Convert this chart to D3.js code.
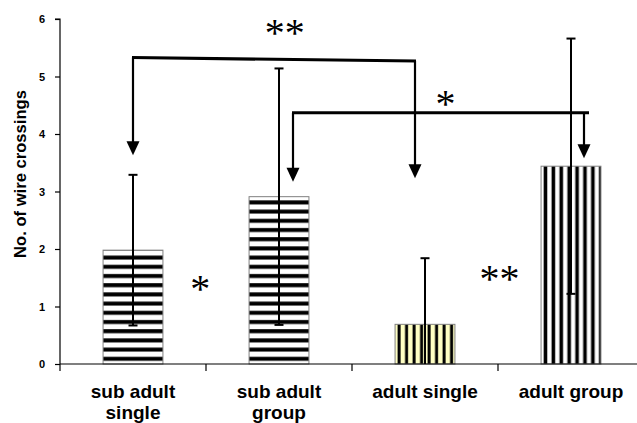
<!DOCTYPE html>
<html>
<head>
<meta charset="utf-8">
<script src="https://cdn.jsdelivr.net/npm/d3@7"></script>
<style>
  body { margin: 0; background: #fff; }
  svg { display: block; }
</style>
</head>
<body>
<div id="vis"></div>
<script>
// data
var categories = ["sub adult single", "sub adult group", "adult single", "adult group"];
var labelLines = [["sub adult", "single"], ["sub adult", "group"], ["adult single"], ["adult group"]];
var means = [1.98, 2.91, 0.69, 3.44];
var errors = [1.31, 2.23, 1.15, 2.22];
var yTicks = [0, 1, 2, 3, 4, 5, 6];

// comparisons: bracket between two bars, arrow tips at given values
var brackets = [
  {label: "**", from: 0, to: 2, levelFrom: 5.33, levelTo: 5.27, tipFrom: 3.63, tipTo: 3.23},
  {label: "*", from: 1, to: 3, levelFrom: 4.37, levelTo: 4.37, tipFrom: 3.17, tipTo: 3.58}
];
// star labels: position as fractional category index and value
var stars = [
  {text: "**", pos: 1.04, value: 5.86},
  {text: "*", pos: 2.14, value: 4.63},
  {text: "*", pos: 0.46, value: 1.41},
  {text: "**", pos: 2.51, value: 1.58}
];

var width = 637, height = 423;

var svg = d3.select("#vis").append("svg")
    .attr("width", width)
    .attr("height", height);

var x = d3.scaleBand().domain(categories).range([60, 644]);
var y = d3.scaleLinear().domain([0, 6]).range([364, 19]);
var barW = x.bandwidth() * 0.41;
function xc(i) { return x(categories[i]) + x.bandwidth() / 2; }
var xi = d3.scaleLinear().domain([0, 3]).range([xc(0), xc(3)]);

var defs = svg.append("defs");

// horizontal stripes
var ph = defs.append("pattern")
    .attr("id", "hstripe")
    .attr("patternUnits", "userSpaceOnUse")
    .attr("width", 10).attr("height", 9.2)
    .attr("y", 364);
ph.append("rect").attr("width", 10).attr("height", 9.2).attr("fill", "#fff");
ph.append("rect").attr("y", 2).attr("width", 10).attr("height", 4).attr("fill", "#000");

// vertical stripes on pale yellow
var py = defs.append("pattern")
    .attr("id", "vyellow")
    .attr("patternUnits", "userSpaceOnUse")
    .attr("width", 7.5).attr("height", 10)
    .attr("x", xc(2) - barW / 2);
py.append("rect").attr("width", 7.5).attr("height", 10).attr("fill", "#ffffc4");
py.append("rect").attr("x", 2.5).attr("width", 3).attr("height", 10).attr("fill", "#000");

// vertical stripes on white
var pw = defs.append("pattern")
    .attr("id", "vwhite")
    .attr("patternUnits", "userSpaceOnUse")
    .attr("width", 7.9).attr("height", 10)
    .attr("x", xc(3) - barW / 2);
pw.append("rect").attr("width", 7.9).attr("height", 10).attr("fill", "#fff");
pw.append("rect").attr("x", 2.6).attr("width", 3.6).attr("height", 10).attr("fill", "#000");

var fills = ["url(#hstripe)", "url(#hstripe)", "url(#vyellow)", "url(#vwhite)"];

// bars
svg.append("g").selectAll("rect")
    .data(means)
    .enter().append("rect")
      .attr("x", function(d, i) { return xc(i) - barW / 2; })
      .attr("y", function(d) { return y(d); })
      .attr("width", barW)
      .attr("height", function(d) { return y(0) - y(d); })
      .attr("fill", function(d, i) { return fills[i]; })
      .attr("stroke", "#808080")
      .attr("stroke-width", 1);

// error bars
var eb = svg.append("g").attr("stroke", "#000").attr("stroke-width", 2);
means.forEach(function(m, i) {
  var hi = m + errors[i], lo = Math.max(0, m - errors[i]);
  var cx = xc(i);
  eb.append("line").attr("x1", cx).attr("x2", cx).attr("y1", y(hi)).attr("y2", y(lo));
  eb.append("line").attr("x1", cx - 4.5).attr("x2", cx + 4.5).attr("y1", y(hi)).attr("y2", y(hi));
  if (m - errors[i] > 0)
    eb.append("line").attr("x1", cx - 4.5).attr("x2", cx + 4.5).attr("y1", y(lo)).attr("y2", y(lo));
});

// axes
var yAxis = d3.axisLeft(y).tickValues(yTicks).tickSize(5).tickPadding(10).tickFormat(d3.format("d"));
var gy = svg.append("g").attr("transform", "translate(60,0)").call(yAxis);
gy.select(".domain").attr("d", "M-5," + y(6) + "H0V" + y(0)).attr("stroke-width", 1.2);
gy.selectAll(".tick line").attr("stroke-width", 1.2);
gy.selectAll("text")
    .attr("font-family", "Liberation Sans, Arial, sans-serif")
    .attr("font-weight", "bold")
    .attr("font-size", 11)
    .attr("fill", "#000");

var gx = svg.append("g");
gx.append("line")
    .attr("x1", x.range()[0]).attr("x2", x.range()[1])
    .attr("y1", y(0)).attr("y2", y(0))
    .attr("stroke", "#000").attr("stroke-width", 1.2);
var bounds = categories.map(function(c) { return x(c); }).concat([x.range()[1]]);
gx.selectAll(".xt").data(bounds).enter().append("line")
    .attr("x1", function(d) { return d; }).attr("x2", function(d) { return d; })
    .attr("y1", y(0)).attr("y2", y(0) + 7)
    .attr("stroke", "#000").attr("stroke-width", 1.2);

var xl = gx.selectAll(".xl").data(labelLines).enter().append("text")
    .attr("text-anchor", "middle")
    .attr("font-family", "Liberation Sans, Arial, sans-serif")
    .attr("font-weight", "bold")
    .attr("font-size", 19)
    .attr("fill", "#000");
xl.each(function(lines, i) {
  var t = d3.select(this);
  lines.forEach(function(s, k) {
    t.append("tspan").attr("x", xc(i)).attr("y", 398 + k * 21).text(s);
  });
});

svg.append("text")
    .attr("transform", "translate(26," + 174 + ") rotate(-90)")
    .attr("text-anchor", "middle")
    .attr("font-family", "Liberation Sans, Arial, sans-serif")
    .attr("font-weight", "bold")
    .attr("font-size", 16.6)
    .attr("fill", "#000")
    .text("No. of wire crossings");

// comparison brackets with arrows
var offsets = [[0, -10, 0], [14, 13, 4]];
var ann = svg.append("g");
brackets.forEach(function(b, k) {
  var x1 = xc(b.from) + offsets[k][0];
  var x2 = xc(b.to) + offsets[k][1];
  var yl1 = y(b.levelFrom), yl2 = y(b.levelTo);
  ann.append("line")
      .attr("x1", x1 - 1).attr("x2", x2 + offsets[k][2] + 1)
      .attr("y1", yl1).attr("y2", yl2)
      .attr("stroke", "#000").attr("stroke-width", 3.2);
  [[x1, yl1, y(b.tipFrom)], [x2, yl2, y(b.tipTo)]].forEach(function(a) {
    ann.append("line")
        .attr("x1", a[0]).attr("x2", a[0])
        .attr("y1", a[1]).attr("y2", a[2] - 10)
        .attr("stroke", "#000").attr("stroke-width", 2.2);
    ann.append("path")
        .attr("d", "M" + (a[0] - 6.5) + "," + (a[2] - 14) + "L" + (a[0] + 6.5) + "," + (a[2] - 14) + "L" + a[0] + "," + a[2] + "Z")
        .attr("fill", "#000");
  });
});

// significance stars
var fs = 40;
svg.append("g").selectAll("text")
    .data(stars)
    .enter().append("text")
      .attr("x", function(d) { return xi(d.pos); })
      .attr("y", function(d) { return y(d.value) + 0.47 * fs; })
      .attr("text-anchor", "middle")
      .attr("font-family", "Liberation Serif, Times New Roman, serif")
      .attr("font-size", fs)
      .attr("fill", "#000")
      .text(function(d) { return d.text; });
</script>
</body>
</html>
